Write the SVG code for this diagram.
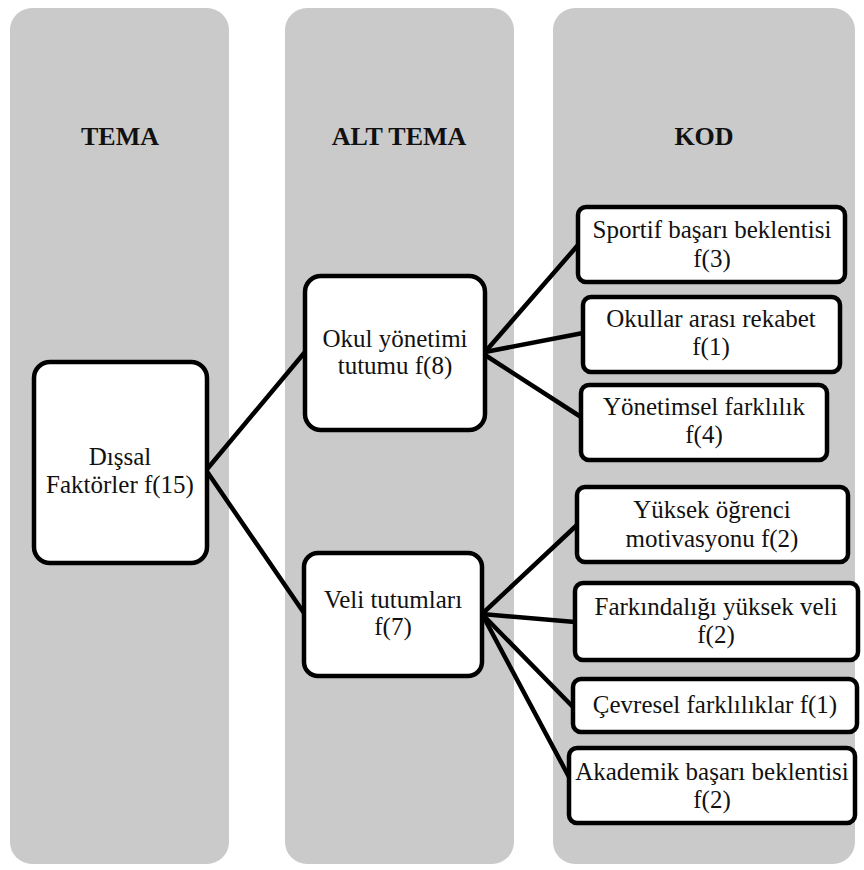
<svg xmlns="http://www.w3.org/2000/svg" width="864" height="870" viewBox="0 0 864 870">
<style>
.col{fill:#cacaca;stroke:none}
.node rect{fill:#fff;stroke:#000;stroke-width:4.5}
text{font-family:"Liberation Serif",serif;font-size:25px;fill:#111;text-anchor:middle}
.hdr{font-weight:bold;font-size:26px}
#connectors line{stroke:#000;stroke-width:4.5;stroke-linecap:round}
</style>
<rect width="864" height="870" fill="#fff"/>
<g id="columns">
<rect class="col" x="10" y="8" width="219" height="856" rx="22"/>
<rect class="col" x="285" y="8" width="229" height="856" rx="22"/>
<rect class="col" x="553" y="8" width="302" height="856" rx="22"/>
<text class="hdr" x="120" y="145">TEMA</text>
<text class="hdr" x="399" y="145">ALT TEMA</text>
<text class="hdr" x="704" y="145">KOD</text>
</g>
<g id="connectors">
<line x1="208" y1="468" x2="305" y2="352"/>
<line x1="208" y1="473" x2="304" y2="613"/>
<line x1="485" y1="352" x2="578" y2="245"/>
<line x1="485" y1="352" x2="583" y2="333"/>
<line x1="485" y1="355" x2="581" y2="417"/>
<line x1="482" y1="614" x2="577" y2="525"/>
<line x1="482" y1="614" x2="575" y2="622"/>
<line x1="482" y1="614" x2="573" y2="707"/>
<line x1="482" y1="614" x2="569" y2="777"/>
</g>
<g id="n-dissal" class="node">
<rect x="34" y="362" width="173" height="201" rx="16"/>
<text x="120" y="465">Dışsal</text>
<text x="120" y="493">Faktörler f(15)</text>
</g>
<g id="n-okul" class="node">
<rect x="305" y="276" width="180" height="154" rx="16"/>
<text x="395" y="347">Okul yönetimi</text>
<text x="395" y="374">tutumu f(8)</text>
</g>
<g id="n-veli" class="node">
<rect x="304" y="553" width="178" height="123" rx="14"/>
<text x="393" y="608">Veli tutumları</text>
<text x="393" y="635">f(7)</text>
</g>
<g id="n-sportif" class="node">
<rect x="578" y="207" width="267" height="75" rx="8"/>
<text x="712" y="238">Sportif başarı beklentisi</text>
<text x="712" y="267">f(3)</text>
</g>
<g id="n-okullar" class="node">
<rect x="583" y="297" width="257" height="75" rx="8"/>
<text x="711" y="327">Okullar arası rekabet</text>
<text x="711" y="355">f(1)</text>
</g>
<g id="n-yonetimsel" class="node">
<rect x="581" y="385" width="246" height="75" rx="8"/>
<text x="704" y="415">Yönetimsel farklılık</text>
<text x="704" y="443">f(4)</text>
</g>
<g id="n-yuksek" class="node">
<rect x="577" y="487" width="271" height="75" rx="8"/>
<text x="712" y="518">Yüksek öğrenci</text>
<text x="712" y="547">motivasyonu f(2)</text>
</g>
<g id="n-farkindaligi" class="node">
<rect x="575" y="583" width="283" height="77" rx="8"/>
<text x="716" y="615">Farkındalığı yüksek veli</text>
<text x="716" y="643">f(2)</text>
</g>
<g id="n-cevresel" class="node">
<rect x="573" y="679" width="284" height="53" rx="8"/>
<text x="715" y="713">Çevresel farklılıklar f(1)</text>
</g>
<g id="n-akademik" class="node">
<rect x="569" y="748" width="286" height="75" rx="8"/>
<text x="712" y="780">Akademik başarı beklentisi</text>
<text x="712" y="808">f(2)</text>
</g>
</svg>
